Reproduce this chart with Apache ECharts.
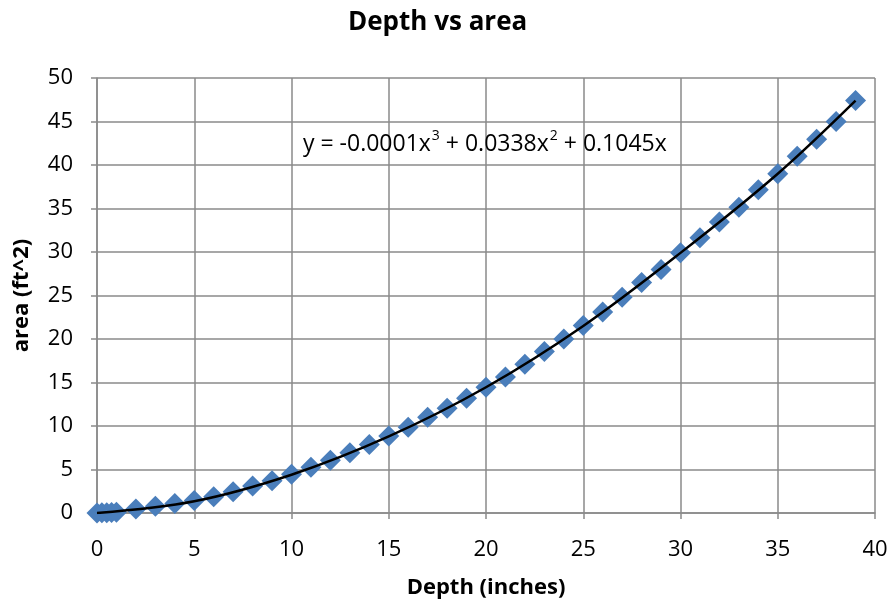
<!DOCTYPE html>
<html>
<head>
<meta charset="utf-8">
<script src="https://cdn.jsdelivr.net/npm/echarts@6/dist/echarts.min.js"></script>
<style>html,body{margin:0;padding:0;background:#fff}#c{width:892px;height:604px}</style>
</head>
<body>
<div id="c"></div>
<script>
// Depth (inches) of the measured points
const depth = [0, 0.25, 0.5, 0.75, 1, 2, 3, 4, 5, 6, 7, 8, 9, 10, 11, 12, 13, 14, 15, 16, 17, 18, 19, 20,
  21, 22, 23, 24, 25, 26, 27, 28, 29, 30, 31, 32, 33, 34, 35, 36, 37, 38, 39];
// Area (ft^2)
const area = [0, 0.02, 0.04, 0.07, 0.1, 0.45, 0.78, 1.08, 1.45, 1.86, 2.45, 3.1, 3.72, 4.45,
  5.25, 6.05, 6.92, 7.88, 8.84, 9.87, 11.0, 12.05, 13.2, 14.45,
  15.62, 17.1, 18.55, 20.0, 21.55, 23.1, 24.8, 26.5, 28.0, 29.9,
  31.65, 33.45, 35.15, 37.15, 39.0, 41.0, 42.95, 45.0, 47.4];
// Trendline
const trendX = [0, 5, 10, 15, 20, 25, 30, 35, 39];
const trendY = [0, 1.35, 4.4, 8.8, 14.45, 21.5, 29.9, 39.0, 47.4];
const xTicks = {min: 0, max: 40, interval: 5};
const yTicks = {min: 0, max: 50, interval: 5};
const titleText = 'Depth vs area';
const xName = 'Depth (inches)';
const yName = 'area (ft^2)';

const FONT = '"Open Sans", sans-serif';
const GRID = '#8a8a8a';

const chart = echarts.init(document.getElementById('c'), null, {renderer: 'canvas'});
chart.setOption({
  animation: false,
  backgroundColor: '#fff',
  title: [
    {text: titleText, left: 343, top: 5,
     textStyle: {fontFamily: FONT, fontWeight: 'bold', fontSize: 26, color: '#000'}},
    {text: '{n|y = -0.0001x}{s|3}{n| + 0.0338x}{s|2}{n| + 0.1045x}', left: 303, top: 124, padding: 0,
     textStyle: {fontWeight: 'normal', rich: {
       n: {fontFamily: FONT, fontWeight: 'normal', fontSize: 23, color: '#000', lineHeight: 32, verticalAlign: 'bottom'},
       s: {fontFamily: FONT, fontWeight: 'normal', fontSize: 14, color: '#000', lineHeight: 32, verticalAlign: 'top', padding: [5, 0, 0, 1]}
     }}}
  ],
  grid: {left: 97, right: 17, top: 78, bottom: 90, containLabel: false},
  xAxis: {
    type: 'value', min: xTicks.min, max: xTicks.max, interval: xTicks.interval,
    name: xName, nameLocation: 'middle', nameGap: 64,
    nameTextStyle: {fontFamily: FONT, fontWeight: 'bold', fontSize: 22, color: '#000'},
    axisLine: {show: true, lineStyle: {color: GRID, width: 1.5}},
    axisTick: {show: true, length: 6, lineStyle: {color: GRID, width: 1.5}},
    axisLabel: {fontFamily: FONT, fontSize: 22, color: '#000', margin: 26},
    splitLine: {show: true, lineStyle: {color: GRID, width: 1.5}}
  },
  yAxis: {
    type: 'value', min: yTicks.min, max: yTicks.max, interval: yTicks.interval,
    name: yName, nameLocation: 'middle', nameGap: 64, nameRotate: 90,
    nameTextStyle: {fontFamily: FONT, fontWeight: 'bold', fontSize: 22, color: '#000'},
    axisLine: {show: true, lineStyle: {color: GRID, width: 1.5}},
    axisTick: {show: true, length: 6, lineStyle: {color: GRID, width: 1.5}},
    axisLabel: {fontFamily: FONT, fontSize: 22, color: '#000', margin: 24},
    splitLine: {show: true, lineStyle: {color: GRID, width: 1.5}}
  },
  series: [
    {type: 'scatter', symbol: 'diamond', symbolSize: 21,
     itemStyle: {color: '#4a7ebb', opacity: 1},
     data: depth.map((d, i) => [d, area[i]]), z: 2},
    {type: 'line', smooth: 0.35, showSymbol: false, symbol: 'none',
     lineStyle: {color: '#000', width: 2.5},
     data: trendX.map((d, i) => [d, trendY[i]]), z: 3}
  ]
});
</script>
</body>
</html>
